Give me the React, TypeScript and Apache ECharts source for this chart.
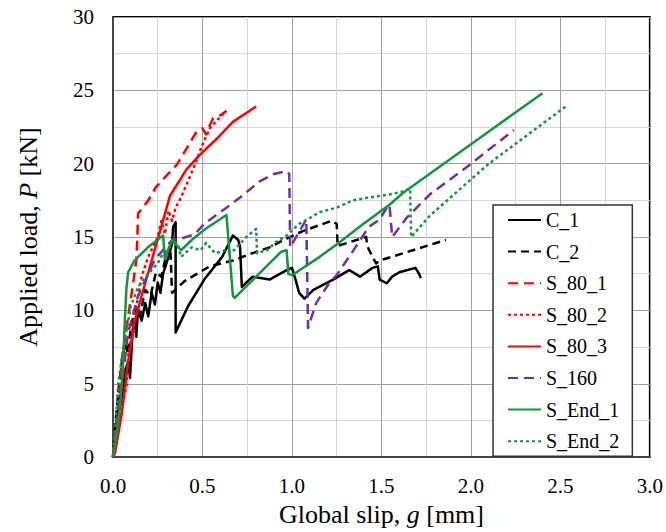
import React, { useEffect, useRef } from "react";
import * as echarts from "echarts";

type Pt = [number, number];

const seriesNames = ["C_1", "C_2", "S_80_1", "S_80_2", "S_80_3", "S_160", "S_End_1", "S_End_2"];

const c1: Pt[] = [
  [0, 0], [0.02, 2.4], [0.04, 4.2], [0.05, 3.6], [0.065, 5.8], [0.085, 6.5], [0.095, 5.4], [0.11, 8.7],
  [0.12, 9.4], [0.13, 8.2], [0.14, 10.1], [0.16, 9.3], [0.18, 10.5], [0.197, 9.6], [0.216, 11.2],
  [0.234, 10.4], [0.25, 11.9], [0.265, 11.2], [0.28, 12.5], [0.31, 13.65], [0.33, 14.55], [0.336, 15.7],
  [0.35, 16.0], [0.35, 8.5], [0.42, 10.3], [0.51, 12.1], [0.61, 13.65], [0.67, 15.1], [0.7, 14.8],
  [0.71, 14.3], [0.72, 11.6], [0.78, 12.3], [0.875, 12.1], [0.97, 12.75], [1.0, 12.9], [1.02, 12.1],
  [1.04, 11.2], [1.07, 10.8], [1.12, 11.4], [1.23, 12.1], [1.32, 12.75], [1.38, 12.3], [1.45, 12.9],
  [1.48, 13.0], [1.49, 12.1], [1.53, 11.85], [1.56, 12.3], [1.6, 12.6], [1.69, 12.9], [1.71, 12.5],
  [1.72, 12.2],
];

const c2: Pt[] = [
  [0, 0], [0.015, 2.5], [0.03, 4.5], [0.05, 6.5], [0.07, 7.8], [0.085, 7.0], [0.1, 9.0], [0.13, 10.2],
  [0.15, 9.6], [0.18, 11.4], [0.21, 11.0], [0.24, 12.6], [0.27, 12.3], [0.3, 13.9], [0.32, 14.3],
  [0.33, 11.2], [0.4, 12.0], [0.54, 13.0], [0.67, 13.4], [0.78, 13.9], [0.875, 14.3], [0.97, 14.9],
  [1.06, 15.4], [1.22, 16.1], [1.25, 15.9], [1.255, 14.4], [1.415, 15.0], [1.42, 14.4], [1.45, 13.65],
  [1.47, 13.2], [1.49, 13.4], [1.86, 14.8],
];

const s80a: Pt[] = [
  [0, 0], [0.01, 1.5], [0.03, 3.3], [0.048, 6.5], [0.085, 9.6], [0.113, 11.9], [0.13, 13.4],
  [0.135, 14.6], [0.14, 16.6], [0.197, 17.5], [0.24, 18.4], [0.3, 19.2], [0.355, 19.9], [0.39, 20.6],
  [0.467, 22.2], [0.5, 22.4], [0.52, 22.0], [0.54, 22.6], [0.56, 23.1], [0.6, 23.3], [0.634, 23.6],
];

const s80b: Pt[] = [
  [0, 0], [0.01, 0.65], [0.048, 3.3], [0.076, 4.9], [0.085, 6.9], [0.12, 9.6], [0.16, 12.3],
  [0.197, 13.65], [0.25, 15.0], [0.27, 16.1], [0.29, 15.2], [0.31, 16.8], [0.33, 16.1], [0.35, 17.0],
  [0.38, 17.7], [0.45, 19.7], [0.5, 21.3], [0.54, 22.4], [0.57, 22.8], [0.6, 23.2], [0.634, 23.6],
];

const s80c: Pt[] = [
  [0, 0], [0.01, 0.2], [0.048, 2.9], [0.085, 6.5], [0.12, 9.2], [0.16, 11.0], [0.216, 13.4],
  [0.27, 15.7], [0.318, 17.8], [0.41, 19.6], [0.485, 20.6], [0.58, 21.7], [0.67, 22.85], [0.8, 23.9],
];

const s160: Pt[] = [
  [0, 0], [0.01, 1.2], [0.03, 3.3], [0.06, 6.0], [0.085, 8.5], [0.14, 11.0], [0.235, 13.5],
  [0.33, 14.8], [0.383, 14.9], [0.457, 15.2], [0.51, 15.9], [0.634, 17.0], [0.71, 17.7], [0.82, 18.8],
  [0.9, 19.3], [0.97, 19.5], [0.985, 19.3], [0.99, 14.3], [1.08, 16.2], [1.09, 8.8], [1.135, 10.5],
  [1.21, 11.9], [1.25, 12.4], [1.36, 14.4], [1.43, 15.7], [1.49, 16.2], [1.53, 17.0], [1.545, 17.2],
  [1.56, 15.0], [1.64, 16.3], [1.77, 17.9], [1.97, 19.7], [2.24, 22.3],
];

const sEnd1: Pt[] = [
  [0, 0], [0.02, 1.5], [0.04, 3.5], [0.055, 6.0], [0.065, 9.0], [0.075, 11.5], [0.085, 12.6],
  [0.12, 13.4], [0.195, 14.3], [0.28, 15.1], [0.29, 13.5], [0.33, 14.8], [0.38, 14.1], [0.44, 14.8],
  [0.51, 15.5], [0.634, 16.5], [0.67, 11.0], [0.68, 10.85], [0.94, 14.0], [0.97, 14.1], [0.98, 12.5],
  [1.0, 12.4], [1.155, 13.65], [1.25, 14.5], [1.4, 15.9], [1.545, 17.2], [1.62, 18.0], [1.86, 20.1],
  [2.1, 22.2], [2.4, 24.8],
];

const sEnd2: Pt[] = [
  [0, 0], [0.01, 1.5], [0.03, 5.1], [0.057, 7.4], [0.1, 10.3], [0.14, 11.6], [0.197, 12.5],
  [0.25, 13.2], [0.28, 13.9], [0.31, 14.2], [0.33, 14.8], [0.36, 14.55], [0.38, 13.65], [0.44, 14.3],
  [0.49, 14.1], [0.52, 14.6], [0.57, 13.9], [0.63, 14.1], [0.66, 13.9], [0.745, 15.0], [0.8, 15.55],
  [0.805, 13.9], [0.86, 14.1], [0.91, 14.65], [0.97, 15.1], [1.04, 15.9], [1.1, 16.3], [1.155, 16.7],
  [1.25, 17.0], [1.34, 17.5], [1.43, 17.7], [1.545, 17.9], [1.62, 18.1], [1.66, 18.3], [1.666, 15.0],
  [1.77, 16.45], [2.1, 20.0], [2.53, 23.9],
];

const seriesData: Pt[][] = [c1, c2, s80a, s80b, s80c, s160, sEnd1, sEnd2];

const BLACK = "#000000";
const RED = "#ff0000";
const PURPLE = "#7030a0";
const GREEN = "#12953b";

const seriesColors = [BLACK, BLACK, RED, RED, RED, PURPLE, GREEN, GREEN];
const seriesDash: (string | number[])[] = ["solid", [8, 5], [10, 6], [3, 3], "solid", [10, 6], "solid", [3, 3]];

const xTicks = { min: 0, max: 3, interval: 0.5 };
const yTicks = { min: 0, max: 30, interval: 5 };

const FONT = "Liberation Serif, DejaVu Serif, Times New Roman, serif";

export default function App() {
  const ref = useRef<HTMLDivElement>(null);

  useEffect(() => {
    if (!ref.current) return;
    const chart = echarts.init(ref.current, undefined, { renderer: "svg" });
    chart.setOption({
      animation: false,
      backgroundColor: "#ffffff",
      textStyle: { fontFamily: FONT },
      grid: {
        left: 113,
        right: 15,
        top: 17,
        bottom: 69,
        show: true,
        borderColor: "#000",
        borderWidth: 2,
        backgroundColor: "transparent",
      },
      legend: {
        orient: "vertical",
        left: 493,
        top: 205,
        padding: [5, 13, 5, 14],
        itemGap: 11.6,
        itemWidth: 33,
        itemHeight: 2,
        backgroundColor: "#ffffff",
        borderColor: "#333",
        borderWidth: 1.5,
        data: seriesNames,
        itemStyle: { opacity: 0 },
        textStyle: { fontFamily: FONT, fontSize: 20, color: "#000", lineHeight: 20 },
      },
      xAxis: {
        type: "value",
        min: xTicks.min,
        max: xTicks.max,
        interval: xTicks.interval,
        name: "Global slip, {i|g} [mm]",
        nameLocation: "middle",
        nameGap: 37,
        nameTextStyle: {
          fontFamily: FONT,
          fontSize: 26,
          color: "#000",
          rich: { i: { fontFamily: FONT, fontSize: 26, fontStyle: "italic", color: "#000" } },
        },
        axisLine: { show: true, onZero: false, lineStyle: { color: "#444", width: 2 } },
        axisTick: { show: false },
        axisLabel: {
          fontFamily: FONT,
          fontSize: 21,
          color: "#000",
          margin: 18,
          formatter: (v: number) => v.toFixed(1),
        },
        splitLine: { show: true, lineStyle: { color: "#a0a0a0", width: 1 } },
        minorTick: { show: false, splitNumber: 2 },
        minorSplitLine: { show: true, lineStyle: { color: "#d6d6d6", width: 1 } },
      },
      yAxis: {
        type: "value",
        min: yTicks.min,
        max: yTicks.max,
        interval: yTicks.interval,
        name: "Applied load, {i|P} [kN]",
        nameLocation: "middle",
        nameGap: 72,
        nameTextStyle: {
          fontFamily: FONT,
          fontSize: 26,
          color: "#000",
          rich: { i: { fontFamily: FONT, fontSize: 26, fontStyle: "italic", color: "#000" } },
        },
        axisLine: { show: true, onZero: false, lineStyle: { color: "#444", width: 2 } },
        axisTick: { show: false },
        axisLabel: { fontFamily: FONT, fontSize: 21, color: "#000", margin: 19 },
        splitLine: { show: true, lineStyle: { color: "#a0a0a0", width: 1 } },
        minorTick: { show: false, splitNumber: 2 },
        minorSplitLine: { show: true, lineStyle: { color: "#d6d6d6", width: 1 } },
      },
      series: seriesNames.map((name, i) => ({
        name,
        type: "line",
        data: seriesData[i],
        symbol: "none",
        showSymbol: false,
        smooth: false,
        clip: true,
        color: seriesColors[i],
        lineStyle: {
          color: seriesColors[i],
          width: 2.5,
          type: seriesDash[i],
          cap: "butt",
          join: "round",
        },
        emphasis: { disabled: true },
        z: 2 + i,
      })),
    });
    return () => chart.dispose();
  }, []);

  return (
    <div
      ref={ref}
      style={{ position: "fixed", left: 0, top: 0, width: 666, height: 532, background: "#fff" }}
    />
  );
}
